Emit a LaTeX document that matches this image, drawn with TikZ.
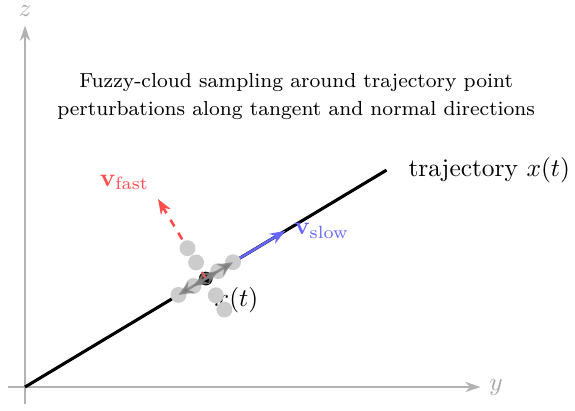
\documentclass[tikz,border=0pt]{standalone}
\usepackage{amsmath}
\usetikzlibrary{arrows.meta,calc}
\begin{document}
\begin{tikzpicture}[x=1cm,y=1cm]
\tikzset{
  axisline/.style={draw=black!30, line width=0.8pt, -{Stealth[length=6pt,width=4pt]}},
  axislabel/.style={text=black!35},
  trajline/.style={draw=black, line width=1.2pt},
  slowvec/.style={draw=blue!60, line width=1pt, -{Stealth[length=6pt,width=4.5pt]}},
  fastvec/.style={draw=red!70, line width=1pt, dashed, -{Stealth[length=6pt,width=4.5pt]}},
  cloudpt/.style={circle, fill=black!20, inner sep=0pt, minimum size=0.22cm},
  pertvec/.style={draw=gray, opacity=0.8, line width=1pt, -{Stealth[length=6pt,width=5pt]}},
  centerdot/.style={circle, fill=black, inner sep=0pt, minimum size=0.19cm},
}
\useasboundingbox (-0.346,-0.318) rectangle (7.607,5.353);
% axes
\coordinate (O) at (0,0);
\coordinate (ya0) at (-0.23,0);
\coordinate (ya1) at (6.3,0);
\coordinate (za0) at (0,-0.23);
\coordinate (za1) at (0,5);
\draw[axisline] (ya0) -- (ya1);
\draw[axisline] (za0) -- (za1);
\node[axislabel, right] (ylab) at (ya1) {$y$};
\node[axislabel, above] (zlab) at (za1) {$z$};
% title
\node[align=center, font=\footnotesize] (title) at (3.75,4.02)
  {Fuzzy-cloud sampling around trajectory point\\[1.6pt]perturbations along tangent and normal directions};
% trajectory
\coordinate (E) at (5,3);
\draw[trajline] (O) -- (E);
\node[anchor=west] (trajlab) at (5.18,3) {trajectory $x(t)$};
% point
\coordinate (P) at (2.5,1.5);
\node[centerdot] (dot) at (P) {};
\node[below right] (xlab) at (P) {$x(t)$};
% velocity vectors
\coordinate (S) at ($(P)+(1.1,0.66)$);
\coordinate (F) at ($(P)+(-0.66,1.1)$);
\draw[slowvec] (P) -- (S);
\node[right, text=blue!60] (slowlab) at (S) {$\mathbf{v}_{\text{slow}}$};
\draw[fastvec] (P) -- (F);
\node[above left, text=red!70] (fastlab) at (F) {$\mathbf{v}_{\text{fast}}$};
% cloud points
\path (P) ++(30.96:0.2) node[cloudpt] (t1) {};
\path (P) ++(30.96:0.44) node[cloudpt] (t2) {};
\path (P) ++(210.96:0.2) node[cloudpt] (t3) {};
\path (P) ++(210.96:0.44) node[cloudpt] (t4) {};
\path (P) ++(120.96:0.26) node[cloudpt] (n1) {};
\path (P) ++(120.96:0.49) node[cloudpt] (n2) {};
\path (P) ++(300.96:0.27) node[cloudpt] (n3) {};
\path (P) ++(300.96:0.5) node[cloudpt] (n4) {};
% perturbation arrows
\draw[pertvec] (P) -- (t1.center);
\draw[pertvec] (P) -- (t2.center);
\draw[pertvec] (P) -- (t3.center);
\draw[pertvec] (P) -- (t4.center);
\end{tikzpicture}
\end{document}
